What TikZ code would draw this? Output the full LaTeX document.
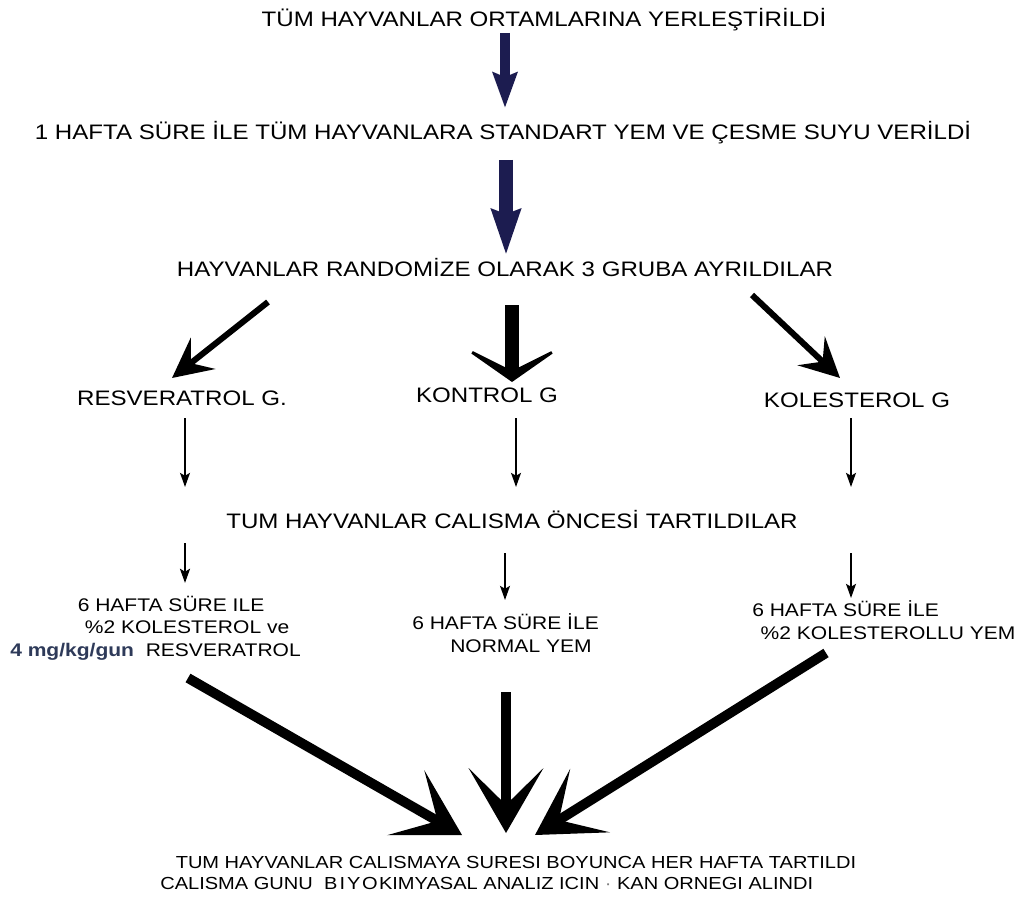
\documentclass[tikz,border=0pt]{standalone}
\usepackage{xcolor}
\usepackage{fontspec}
\setmainfont{Liberation Sans}[FakeStretch=1.15]
\usepackage{tikz}
\usetikzlibrary{arrows.meta,positioning,calc}
\definecolor{arrownavy}{HTML}{1C1C50}
\definecolor{doseslate}{HTML}{2E3A59}

\begin{document}
\begin{tikzpicture}[
    x=0.025cm, y=-0.025cm,
    every node/.style={inner sep=0pt, text=black},
    bigtext/.style={font=\fontsize{14.9}{16}\selectfont},
    midtext/.style={font=\fontsize{13}{16}\selectfont, align=left, anchor=west},
    smalltext/.style={font=\fontsize{12.4}{15.6}\selectfont, align=left, anchor=west},
    navyarrow/.style={-{Stealth[length=25pt, width=17pt, inset=3pt]}, line width=7pt, color=arrownavy},
    navybigarrow/.style={-{Stealth[length=32pt, width=20pt, inset=3pt]}, line width=10pt, color=arrownavy},
    diagarrow/.style={-{Stealth[length=28pt, width=28pt, inset=11pt]}, line width=4.3pt},
    flatarrow/.style={-{Stealth[length=28pt, width=80pt, inset=20pt]}, line width=10pt},
    thinarrow/.style={-{Stealth[length=10pt, width=7pt, inset=2pt]}, line width=1.4pt},
    fatarrow/.style={-{Stealth[length=46pt, width=53pt, inset=26pt]}, line width=7pt}
]
    \useasboundingbox (0,0) rectangle (1016,899);

    \node[bigtext] (settle) at (544,20) {TÜM HAYVANLAR ORTAMLARINA YERLEŞTİRİLDİ};
    \node[bigtext] (feed) at (503,133) {1 HAFTA SÜRE İLE TÜM HAYVANLARA STANDART YEM VE ÇESME SUYU VERİLDİ};
    \node[bigtext] (split) at (505,268) {HAYVANLAR RANDOMİZE OLARAK 3 GRUBA AYRILDILAR};

    \node[bigtext] (res) at (182,398) {RESVERATROL G.};
    \node[bigtext] (con) at (487,395) {KONTROL G};
    \node[bigtext] (kol) at (857,400) {KOLESTEROL G};

    \node[bigtext] (weigh) at (512,520) {TUM HAYVANLAR CALISMA ÖNCESİ TARTILDILAR};

    \node[midtext] (dres) at (10,628) {\hspace*{48pt}6 HAFTA SÜRE ILE\\
        \hspace*{53pt}\%2 KOLESTEROL ve\\
        {\bfseries\color{doseslate}4 mg/kg/gun}\ \ RESVERATROL};
    \node[midtext] (dcon) at (412,633) {6 HAFTA SÜRE İLE\\ \hspace*{27pt}NORMAL YEM};
    \node[midtext] (dkol) at (752,620) {6 HAFTA SÜRE İLE\\ \hspace*{6pt}\%2 KOLESTEROLLU YEM};

    \node[smalltext] (end) at (160,873) {\hspace*{11pt}TUM HAYVANLAR CALISMAYA SURESI BOYUNCA HER HAFTA TARTILDI\\
        CALISMA GUNU\ \ B\kern1.5pt I\kern1.5pt Y\kern1pt O\kern1pt KIMYASAL ANALIZ ICIN {\color{gray}·} KAN ORNEGI ALINDI};

    % top chain
    \draw[navyarrow] ($(settle)+(-39,13)$) -- ($(feed)+(2,-25)$);
    \draw[navybigarrow] ($(feed)+(3,27)$) -- ($(split)+(1,-13)$);

    % split into groups
    \draw[diagarrow] ($(split)+(-237,34)$) -- ($(res)+(-10,-20)$);
    \draw[flatarrow] ($(split)+(7,37)$) -- ($(con)+(25,-13)$);
    \draw[diagarrow] ($(split)+(247,27)$) -- ($(kol)+(-17,-22)$);

    \draw[thinarrow] ($(res)+(3,20)$) -- ($(weigh)+(-327,-33)$);
    \draw[thinarrow] ($(con)+(29,23)$) -- ($(weigh)+(4,-33)$);
    \draw[thinarrow] ($(kol)+(-6,18)$) -- ($(weigh)+(339,-33)$);

    \draw[thinarrow, line width=2.1pt] ($(weigh)+(-327,23)$) -- ($(dres.west)+(175,-45)$);
    \draw[thinarrow] ($(weigh)+(-7,33)$) -- ($(dcon.west)+(93,-33)$);
    \draw[thinarrow] ($(weigh)+(339,33)$) -- ($(dkol.west)+(99,-22)$);

    % merge
    \draw[fatarrow] ($(dres.west)+(178,50)$) -- ($(end.west)+(302,-38)$);
    \draw[fatarrow] ($(dcon.west)+(94,59)$) -- ($(end.west)+(346,-40)$);
    \draw[fatarrow] ($(dkol.west)+(74,33)$) -- ($(end.west)+(375,-38)$);
\end{tikzpicture}
\end{document}
